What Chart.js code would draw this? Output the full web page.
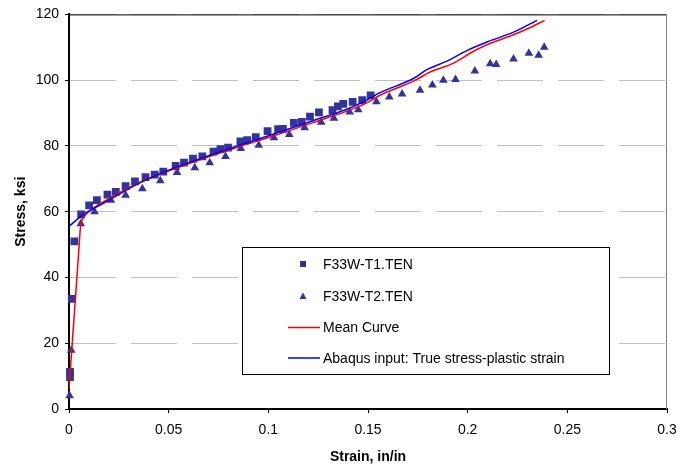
<!DOCTYPE html>
<html>
<head>
<meta charset="utf-8">
<script src="https://cdn.jsdelivr.net/npm/chart.js@4"></script>
<style>
  body { margin: 0; background: #fff; }
  canvas { display: block; }
</style>
</head>
<body>
<canvas id="myChart" width="694" height="470"></canvas>
<script>
const ctx = document.getElementById("myChart");

// F33W-T1.TEN test points
const t1Strain = [0.0005, 0.0005, 0.0014, 0.0027, 0.0061, 0.0101, 0.014, 0.0193, 0.0235, 0.0284, 0.0331, 0.0384, 0.043, 0.0473, 0.0535, 0.0577, 0.0622, 0.0669, 0.0725, 0.076, 0.0798, 0.086, 0.0894, 0.0937, 0.0996, 0.1049, 0.1073, 0.1128, 0.1168, 0.1209, 0.1254, 0.1322, 0.1349, 0.1376, 0.1423, 0.1471, 0.1513];
const t1Stress = [9.7, 11.3, 33.5, 51, 59.2, 61.9, 63.5, 65.2, 66, 67.8, 69.2, 70.5, 71.3, 72.2, 73.9, 74.9, 76.1, 76.8, 78.3, 79, 79.5, 81.4, 81.8, 82.7, 84.5, 85.1, 85.2, 87, 87.3, 88.9, 90.2, 90.9, 92, 92.8, 93.4, 93.9, 95.4];

// F33W-T2.TEN test points
const t2Strain = [0.0003, 0.0011, 0.0059, 0.0128, 0.021, 0.0284, 0.0368, 0.0458, 0.0542, 0.0631, 0.0706, 0.0785, 0.0862, 0.0952, 0.1028, 0.1105, 0.1182, 0.1265, 0.1329, 0.1408, 0.1451, 0.1542, 0.1607, 0.1671, 0.1761, 0.1823, 0.1878, 0.1939, 0.2036, 0.2113, 0.2143, 0.223, 0.2307, 0.2356, 0.2384];
const t2Stress = [4, 17.9, 56.3, 60, 63.5, 65, 67, 69.4, 71.9, 73.4, 74.9, 76.8, 79.2, 80.2, 82.5, 83.5, 85.5, 87.2, 88.4, 90.3, 91, 93.4, 94.9, 95.8, 96.9, 98.5, 100, 100.2, 102.8, 105, 104.8, 106.4, 108.2, 107.6, 110];

// mean curve
const meanStrain = [0, 0.0049, 0.0058, 0.0078, 0.012, 0.0187, 0.0354, 0.0522, 0.0689, 0.0857, 0.1024, 0.1225, 0.1393, 0.1493, 0.156, 0.1728, 0.1812, 0.1929, 0.2029, 0.213, 0.223, 0.2314, 0.2386];
const meanStress = [6, 48, 55.5, 58.6, 61, 63.5, 68.9, 72.9, 76.5, 79.8, 83, 87.1, 90.6, 93.1, 95.4, 99.7, 102.5, 105.2, 108.8, 111.6, 113.8, 116, 118.2];

// abaqus input: true stress vs plastic strain
const abaqusStrain = [0, 0.0053, 0.0103, 0.017, 0.0237, 0.035, 0.052, 0.069, 0.0855, 0.102, 0.122, 0.139, 0.149, 0.156, 0.1728, 0.1795, 0.1896, 0.1996, 0.2097, 0.223, 0.2348];
const abaqusStress = [55.5, 58.3, 60.3, 62.5, 64.8, 68.6, 73.1, 76.8, 80.2, 83.5, 87.6, 91.1, 93.8, 96.2, 100.5, 103.2, 105.8, 109, 111.6, 114.6, 118.2];

const xTicks = [0, 0.05, 0.1, 0.15, 0.2, 0.25, 0.3];
const yTicks = [0, 20, 40, 60, 80, 100, 120];

const labels = ["F33W-T1.TEN", "F33W-T2.TEN", "Mean Curve", "Abaqus input: True stress-plastic strain"];

const font = "Liberation Sans, Arial, sans-serif";
const navy = "#333399";

function toPoints(xs, ys) {
  return xs.map((x, i) => ({ x, y: ys[i] }));
}

// legend drawn inside the plot, like the excel box
const boxLegend = {
  id: "boxLegend",
  afterDraw(chart) {
    const c = chart.ctx;
    const area = chart.chartArea;
    c.save();
    // top + right frame of the plot
    c.lineWidth = 1;
    c.strokeStyle = "#000";
    c.beginPath();
    c.moveTo(area.left, area.top + 0.5);
    c.lineTo(area.right, area.top + 0.5);
    c.stroke();
    c.strokeStyle = "#808080";
    c.beginPath();
    c.moveTo(area.right - 0.5, area.top);
    c.lineTo(area.right - 0.5, area.bottom);
    c.stroke();

    c.fillStyle = "#fff";
    c.fillRect(242.5, 247.5, 367, 127);
    c.strokeStyle = "#000";
    c.strokeRect(242.5, 247.5, 367, 127);

    const rows = [264, 296, 327.5, 358];
    c.font = "14px " + font;
    c.textBaseline = "middle";
    chart.data.datasets.forEach((ds, i) => {
      const y = rows[i];
      if (ds.showLine) {
        c.strokeStyle = ds.borderColor;
        c.lineWidth = 1.5;
        c.beginPath();
        c.moveTo(288, y);
        c.lineTo(320, y);
        c.stroke();
      } else {
        c.fillStyle = navy;
        if (ds.pointStyle === "rect") {
          c.fillRect(300, y - 3, 6, 6);
        } else {
          c.beginPath();
          c.moveTo(303, y - 3.5);
          c.lineTo(306.5, y + 3);
          c.lineTo(299.5, y + 3);
          c.closePath();
          c.fill();
        }
      }
      c.fillStyle = "#000";
      c.fillText(ds.label, 323, y + 1);
    });
    c.restore();
  },
};

new Chart(ctx, {
  type: "scatter",
  data: {
    datasets: [
      {
        label: labels[0],
        data: toPoints(t1Strain, t1Stress),
        pointStyle: "rect",
        pointRadius: 5.5,
        backgroundColor: navy,
        borderColor: navy,
        borderWidth: 0,
        clip: 8,
        order: 3,
      },
      {
        label: labels[1],
        data: toPoints(t2Strain, t2Stress),
        pointStyle: "triangle",
        pointRadius: 5,
        backgroundColor: navy,
        borderColor: navy,
        borderWidth: 0,
        clip: 8,
        order: 2,
      },
      {
        label: labels[2],
        data: toPoints(meanStrain, meanStress),
        showLine: true,
        borderColor: "#ff0000",
        borderWidth: 1.5,
        pointRadius: 0,
        cubicInterpolationMode: "monotone",
        order: 1,
      },
      {
        label: labels[3],
        data: toPoints(abaqusStrain, abaqusStress),
        showLine: true,
        borderColor: "#0000ff",
        borderWidth: 1.5,
        pointRadius: 0,
        cubicInterpolationMode: "monotone",
        order: 0,
      },
    ],
  },
  options: {
    responsive: false,
    animation: false,
    layout: { padding: { left: 0, right: 27, top: 13, bottom: 0 } },
    plugins: {
      legend: { display: false },
      tooltip: { enabled: false },
    },
    scales: {
      x: {
        type: "linear",
        min: 0,
        max: 0.3,
        afterBuildTicks: (scale) => {
          scale.ticks = xTicks.map((v) => ({ value: v }));
        },
        afterFit: (scale) => {
          scale.height = 61;
        },
        ticks: {
          color: "#000",
          font: { family: font, size: 14 },
          padding: 9,
          maxRotation: 0,
          callback: (v) => String(v),
        },
        grid: {
          drawOnChartArea: false,
          drawTicks: true,
          tickLength: 4,
          tickColor: "#000",
        },
        border: { color: "#000", width: 2 },
        title: {
          display: true,
          text: "Strain, in/in",
          color: "#000",
          font: { family: font, size: 14, weight: "bold" },
          padding: { top: 0, bottom: 4 },
        },
      },
      y: {
        type: "linear",
        min: 0,
        max: 120,
        afterBuildTicks: (scale) => {
          scale.ticks = yTicks.map((v) => ({ value: v }));
        },
        afterFit: (scale) => {
          scale.width = 69;
        },
        ticks: {
          color: "#000",
          font: { family: font, size: 14 },
          padding: 6,
          callback: (v) => String(v),
        },
        grid: {
          color: "#c0c0c0",
          lineWidth: 1,
          drawTicks: true,
          tickLength: 4,
          tickColor: "#000",
          tickBorderDash: [],
        },
        border: { color: "#000", width: 2, dash: [46, 15] },
        title: {
          display: true,
          text: "Stress, ksi",
          color: "#000",
          font: { family: font, size: 14, weight: "bold" },
          padding: { top: 13, bottom: 0 },
        },
      },
    },
  },
  plugins: [boxLegend],
});
</script>
</body>
</html>
